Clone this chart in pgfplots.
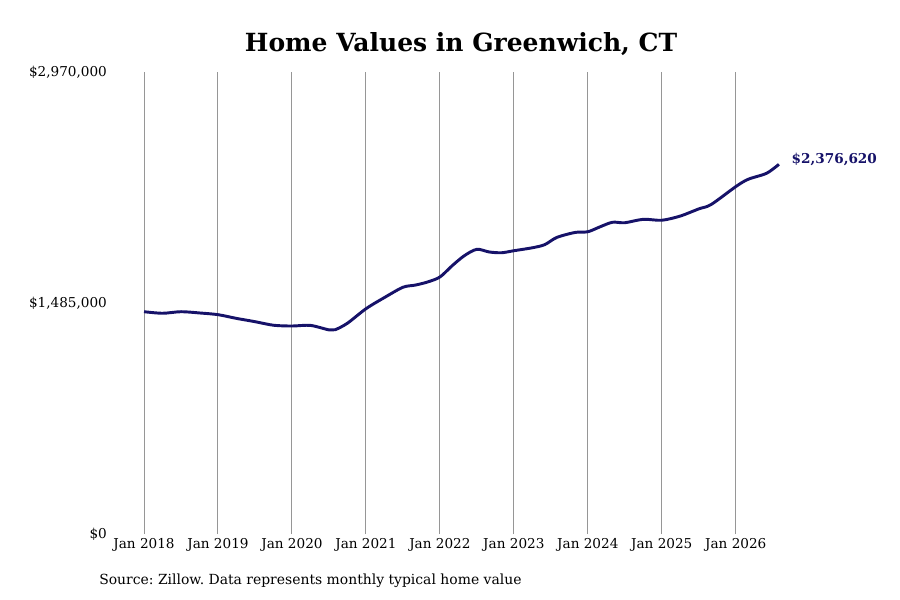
\documentclass[border=0pt]{standalone}
\usepackage{fontspec}
\setmainfont{DejaVu Serif}
\usepackage{pgfplots}
\pgfplotsset{compat=1.18}
\usepackage{pgfplotstable}
\frenchspacing

\definecolor{navyline}{RGB}{22,18,105}
\definecolor{gridgray}{RGB}{150,150,150}

% months since Jan 2018, typical home value
\pgfplotstableread{
m    v
0    1429000
3    1419000
6    1429000
9    1421000
12   1410000
15   1386000
18   1365000
21   1342000
24   1337000
27   1341000
30   1312000
31   1313000
33   1355000
36   1448000
39   1520000
42   1586000
44   1600000
46   1620000
48   1652000
50   1725000
52   1790000
54   1830000
56   1813000
58   1808000
60   1821000
63   1840000
65   1860000
67   1907000
70   1939000
72   1943000
74   1975000
76   2004000
78   2001000
81   2023000
84   2017000
87   2044000
90   2090000
92   2118000
96   2233000
98   2280000
101  2319000
103  2376620
}\homevalues

\begin{document}
\begin{tikzpicture}
\begin{axis}[
    at={(0,0)}, anchor=south west,
    scale only axis,
    width=575.1pt, height=346.5pt,
    xmin=-5, xmax=119.4,
    ymin=0, ymax=2970000,
    axis line style={draw=none},
    major tick length=0pt,
    xtick={0,12,24,36,48,60,72,84,96},
    xticklabels={Jan 2018,Jan 2019,Jan 2020,Jan 2021,Jan 2022,Jan 2023,Jan 2024,Jan 2025,Jan 2026},
    ytick={0,1485000,2970000},
    yticklabels={{\$0},{\$1,485,000},{\$2,970,000}},
    scaled y ticks=false,
    xmajorgrids,
    grid style={gridgray, line width=0.75pt},
    tick label style={font=\fontsize{10.2}{12}\selectfont},
    y tick label style={xshift=-1.2pt},
    clip=false,
]
\addplot[navyline, line width=2.2pt, smooth, tension=0.5]
    table[x=m, y=v] {\homevalues}
    node[pos=1, anchor=west, inner sep=0pt, xshift=8.5pt, yshift=3.75pt,
         font=\fontsize{10.2}{12}\selectfont\bfseries, text=navyline] {\$2,376,620};
\node[font=\fontsize{18.75}{22}\selectfont\bfseries] at (axis description cs:0.4536,1.0606)
    {Home Values in Greenwich, CT};
\node[anchor=west, inner sep=0pt, font=\fontsize{10.45}{12}\selectfont] at (axis description cs:-0.0185,-0.1017)
    {Source: Zillow. Data represents monthly typical home value};
\end{axis}
\pgfresetboundingbox
\path[use as bounding box] (-84.9pt,-49.5pt) rectangle (590.1pt,400.5pt);
\end{tikzpicture}
\end{document}
